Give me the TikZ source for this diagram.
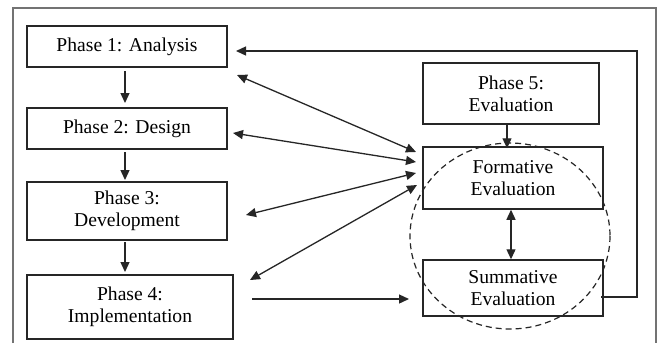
\documentclass[tikz,border=0pt]{standalone}
\usepackage{fontspec}
\setmainfont{Liberation Serif}
\usetikzlibrary{arrows.meta}
\begin{document}
\begin{tikzpicture}[x=0.5pt,y=-0.5pt,
  box/.style={draw=black!85,line width=0.75pt,inner sep=0pt,align=center,
    font=\fontsize{9.8}{11}\selectfont},
  arr/.style={draw=black!85,line width=0.65pt,-{Triangle[length=5pt,width=4.5pt]}},
  darr/.style={draw=black!85,line width=0.65pt,{Triangle[length=5pt,width=4.5pt]}-{Triangle[length=5pt,width=4.5pt]}}]
\useasboundingbox (0,0) rectangle (668,343);
\fill[white] (0,0) rectangle (668,343);
% outer frame
\draw[black!55,line width=0.6pt] (13,343) -- (13,8) -- (656,8) -- (656,343);
% nodes
\node[box,minimum width=100pt,minimum height=20.5pt] (p1) at (127,46.5) {Phase 1: Analysis};
\node[box,minimum width=100pt,minimum height=20.5pt] (p2) at (127,128.5) {Phase 2: Design};
\node[box,minimum width=100pt,minimum height=29pt] (p3) at (127,211) {Phase 3:\\Development};
\node[box,minimum width=103pt,minimum height=32pt] (p4) at (130,307) {Phase 4:\\Implementation};
\node[box,minimum width=88pt,minimum height=30.5pt] (p5) at (511,93.5) {Phase 5:\\Evaluation};
\node[box,minimum width=90pt,minimum height=31pt] (fe) at (513,178) {Formative\\Evaluation};
\node[box,minimum width=90pt,minimum height=28pt] (se) at (513,288) {Summative\\Evaluation};
\draw[black!85,line width=0.6pt,dash pattern=on 3pt off 2pt] (510,236) ellipse [x radius=100,y radius=93];
% vertical flow
\draw[arr] (125,71) -- (125,103);
\draw[arr] (125,152) -- (125,180);
\draw[arr] (125,242) -- (125,272);
\draw[arr] ([xshift=-2pt]p5.south) -- ([xshift=-2pt,yshift=-1pt]p5.south |- fe.north);
\draw[darr] ([xshift=-1pt]fe.south) -- ([xshift=-1pt]se.north);
% diagonals
\coordinate (a1) at (237,75); \coordinate (b1) at (416,152);
\coordinate (a2) at (233,133); \coordinate (b2) at (416,162);
\coordinate (a3) at (246,215); \coordinate (b3) at (416,173);
\coordinate (a4) at (250,280); \coordinate (b4) at (417,185);
\draw[darr] (a1) -- (b1);
\draw[darr] (a2) -- (b2);
\draw[darr] (a3) -- (b3);
\draw[darr] (a4) -- (b4);
% p4 to summative
\coordinate (c1) at (252,299); \coordinate (c2) at (409,299);
\draw[arr] (c1) -- (c2);
% feedback
\coordinate (f1) at (601,297); \coordinate (f2) at (637,297);
\coordinate (f3) at (637,51); \coordinate (f4) at (236,51);
\draw[arr] (f1) -- (f2) -- (f3) -- (f4);
\end{tikzpicture}
\end{document}
